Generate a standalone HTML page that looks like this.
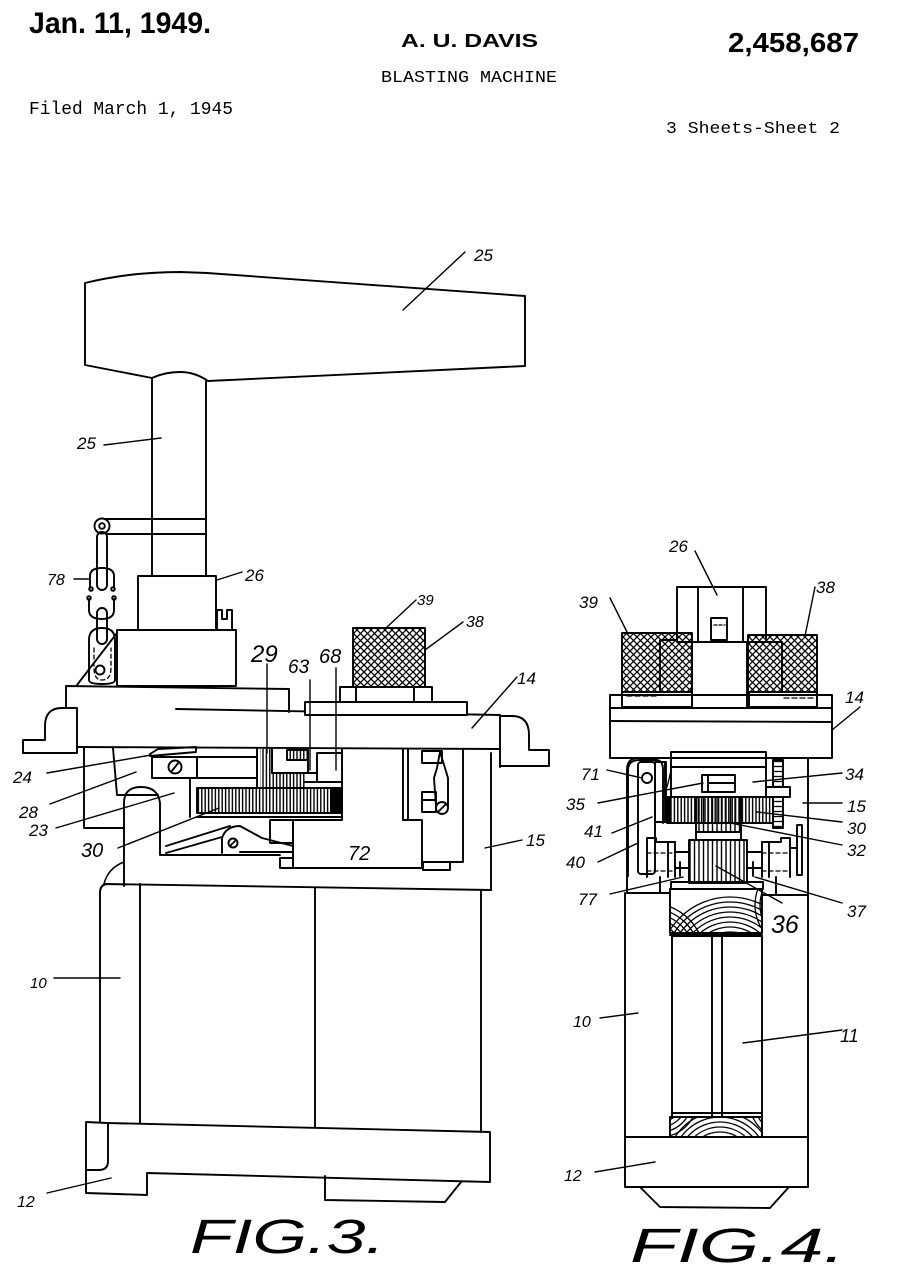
<!DOCTYPE html>
<html>
<head>
<meta charset="utf-8">
<style>
html,body{margin:0;padding:0;background:#fff;}
svg{display:block;}
.l{font-family:"Liberation Sans",sans-serif;font-style:italic;fill:#000;}
.m{font-family:"Liberation Mono",monospace;fill:#000;}
.b{font-family:"Liberation Sans",sans-serif;font-weight:bold;fill:#000;}
.fig{font-family:"Liberation Sans",sans-serif;font-style:italic;fill:#000;}
</style>
</head>
<body>
<svg width="908" height="1280" viewBox="0 0 908 1280" xmlns="http://www.w3.org/2000/svg">
<defs>
  <pattern id="xh" width="7" height="7" patternUnits="userSpaceOnUse">
    <path d="M0,0 L7,7 M7,0 L0,7" stroke="#000" stroke-width="1.3"/>
  </pattern>
  <pattern id="vh" width="3.4" height="10" patternUnits="userSpaceOnUse">
    <line x1="1.2" y1="0" x2="1.2" y2="10" stroke="#000" stroke-width="1.4"/>
  </pattern>
  <pattern id="vh2" width="4.5" height="10" patternUnits="userSpaceOnUse">
    <line x1="1.5" y1="0" x2="1.5" y2="10" stroke="#000" stroke-width="1.4"/>
  </pattern>
  <pattern id="hh" width="10" height="5" patternUnits="userSpaceOnUse">
    <line x1="0" y1="1.5" x2="10" y2="1.5" stroke="#000" stroke-width="1.3"/>
  </pattern>
  <clipPath id="armtop"><rect x="670" y="889" width="92" height="44"/></clipPath>
  <clipPath id="armbot"><rect x="670" y="1117" width="92" height="20"/></clipPath>
</defs>
<rect width="908" height="1280" fill="#fff"/>

<!-- HEADER -->
<text class="b" x="29" y="33" font-size="30" textLength="182" lengthAdjust="spacingAndGlyphs">Jan. 11, 1949.</text>
<text class="b" x="401" y="47" font-size="18" textLength="137" lengthAdjust="spacingAndGlyphs">A. U. DAVIS</text>
<text class="b" x="728" y="52" font-size="28" textLength="131" lengthAdjust="spacingAndGlyphs">2,458,687</text>
<text class="m" x="381" y="82" font-size="17" textLength="176" lengthAdjust="spacingAndGlyphs">BLASTING MACHINE</text>
<text class="m" x="29" y="114" font-size="18" textLength="204" lengthAdjust="spacingAndGlyphs">Filed March 1, 1945</text>
<text class="m" x="666" y="133" font-size="17" textLength="174" lengthAdjust="spacingAndGlyphs">3 Sheets-Sheet 2</text>

<g fill="none" stroke="#000" stroke-width="1.9" stroke-linejoin="round" stroke-linecap="round">

<!-- ================= FIG 3 ================= -->
<path d="M85,283 Q130,272 180,272 L207,273 L525,296 L525,366 L208,381 Q195,372 180,372 Q165,372 152,378 L85,365 Z"/>
<line x1="152" y1="378" x2="152" y2="577"/>
<line x1="206" y1="381" x2="206" y2="577"/>
<line x1="104" y1="519" x2="206" y2="519"/>
<line x1="107" y1="534" x2="206" y2="534"/>
<circle cx="102" cy="526" r="7.5" fill="#fff"/>
<circle cx="102" cy="526" r="2.8"/>
<rect x="97" y="532" width="10" height="58" rx="5"/>
<path d="M90,588 L90,576 Q90,568 102,568 Q114,568 114,576 L114,588"/>
<circle cx="91" cy="589" r="1.8"/><circle cx="113" cy="589" r="1.8"/>
<path d="M89,599 L89,610 Q89,619 102,619 Q114,619 114,610 L114,599"/>
<circle cx="89" cy="598" r="1.8"/><circle cx="114" cy="598" r="1.8"/>
<rect x="97" y="608" width="10" height="36" rx="5"/>
<path d="M89,680 L89,640 Q89,628 102,628 Q115,628 115,640 L115,680 Q115,684 102,684 Q89,684 89,680 Z"/>
<circle cx="100" cy="670" r="4.5"/>
<path d="M94,648 L94,668 Q94,680 102,680 Q111,680 111,668 L111,648" stroke-dasharray="4,3" stroke-width="1.3"/>
<line x1="77" y1="685" x2="117" y2="633"/>
<rect x="138" y="576" width="78" height="54" fill="#fff"/>
<path d="M217,630 L217,610 L222,610 L222,619 L227,619 L227,610 L232,610 L232,630"/>
<rect x="117" y="630" width="119" height="56" fill="#fff"/>
<path d="M66,708 L66,686 L289,689 L289,712"/>
<line x1="176" y1="709" x2="500" y2="715"/>
<line x1="77" y1="747" x2="500" y2="749"/>
<line x1="500" y1="715" x2="500" y2="767"/>
<path d="M77,708 L62,708 Q45,708 45,726 L45,740 L23,740 L23,753 L77,753 Z"/>
<path d="M500,716 L512,716 Q529,716 529,735 L529,750 L549,750 L549,766 L500,766"/>
<rect x="305" y="702" width="162" height="13" fill="#fff"/>
<rect x="340" y="687" width="92" height="15" fill="#fff"/>
<line x1="356" y1="687" x2="356" y2="702"/>
<line x1="414" y1="687" x2="414" y2="702"/>
<rect x="353" y="628" width="72" height="59" fill="url(#xh)"/>

<path d="M84,748 L84,828 L124,828"/>
<path d="M124,886 L124,803 Q124,787 141,787 Q158,787 160,803 L160,855 L280,855"/>
<line x1="491" y1="753" x2="491" y2="890"/>
<line x1="104" y1="884" x2="491" y2="890"/>
<path d="M104,884 Q108,868 124,862" stroke-width="1.5"/>
<path d="M403,749 L403,820 L422,820 L422,868"/>
<line x1="408" y1="749" x2="408" y2="820"/>
<path d="M463,750 L463,862 L423,862"/>
<rect x="423" y="862" width="27" height="8"/>
<rect x="422" y="751" width="20" height="12"/>
<rect x="422" y="792" width="14" height="8"/>
<rect x="422" y="800" width="14" height="12"/>
<path d="M440,752 L437,768 L434,778 L436,806"/>
<path d="M440,752 L445,768 L448,778 L448,806"/>
<circle cx="442" cy="808" r="6" fill="#fff"/>
<line x1="438" y1="812" x2="446" y2="804"/>
<path d="M342,749 L342,820 L293,820 L293,868 L422,868"/>
<rect x="280" y="858" width="13" height="10"/>
<rect x="270" y="820" width="23" height="23"/>
<line x1="257" y1="749" x2="257" y2="788"/>
<rect x="260" y="749" width="13" height="39" fill="url(#vh)" stroke="none"/>
<rect x="273" y="773" width="32" height="15" fill="url(#vh)" stroke="none"/>
<path d="M272,749 L272,773 L308,773 L308,760"/>
<rect x="287" y="750" width="21" height="10" fill="url(#vh)"/>
<rect x="317" y="753" width="25" height="29" fill="#fff"/>
<line x1="305" y1="782" x2="342" y2="782"/>
<line x1="305" y1="773" x2="317" y2="773"/>
<rect x="197" y="788" width="145" height="25" fill="url(#vh)"/>
<rect x="330" y="788" width="12" height="25" fill="#000" stroke="none"/>
<line x1="197" y1="817" x2="342" y2="817"/>
<line x1="190" y1="778" x2="190" y2="817"/>
<rect x="152" y="757" width="45" height="21" fill="#fff"/>
<circle cx="175" cy="767" r="6.5"/>
<line x1="171" y1="772" x2="179" y2="762"/>
<rect x="197" y="757" width="60" height="21"/>
<path d="M150,754 L158,749 L196,747 L196,752 L150,756 Z"/>
<path d="M113,748 L117,795 L158,795"/>
<line x1="158" y1="778" x2="190" y2="778"/>
<line x1="166" y1="846" x2="230" y2="826"/>
<line x1="166" y1="853" x2="222" y2="837"/>
<path d="M222,853 L222,838 Q226,826 240,826 L262,838 L293,846"/>
<line x1="240" y1="852" x2="293" y2="852"/>
<circle cx="233" cy="843" r="4.5"/>
<line x1="230" y1="846" x2="236" y2="840"/>

<path d="M100,1122 L100,893 Q100,884 108,884"/>
<line x1="140" y1="884" x2="140" y2="1123"/>
<line x1="315" y1="888" x2="315" y2="1127"/>
<line x1="481" y1="890" x2="481" y2="1132"/>
<path d="M86,1122 L107,1123 L490,1132 L490,1182 L147,1173 L147,1195 L86,1193 Z"/>
<path d="M108,1123 L108,1161 Q108,1170 99,1170 L86,1170"/>
<path d="M325,1176 L325,1200 L445,1202 L461,1182"/>

<g stroke-width="1.4">
<line x1="465" y1="252" x2="403" y2="310"/>
<line x1="104" y1="445" x2="161" y2="438"/>
<line x1="74" y1="579" x2="89" y2="579"/>
<line x1="217" y1="580" x2="242" y2="572"/>
<line x1="416" y1="600" x2="386" y2="628"/>
<line x1="463" y1="622" x2="425" y2="650"/>
<line x1="517" y1="677" x2="472" y2="728"/>
<line x1="267" y1="664" x2="267" y2="753"/>
<line x1="310" y1="680" x2="310" y2="770"/>
<line x1="336" y1="668" x2="336" y2="770"/>
<line x1="47" y1="773" x2="151" y2="755"/>
<line x1="50" y1="804" x2="136" y2="772"/>
<line x1="56" y1="828" x2="174" y2="793"/>
<line x1="118" y1="848" x2="219" y2="808"/>
<line x1="522" y1="840" x2="485" y2="848"/>
<line x1="54" y1="978" x2="120" y2="978"/>
<line x1="47" y1="1193" x2="111" y2="1178"/>
</g>

<!-- ================= FIG 4 ================= -->
<rect x="677" y="587" width="89" height="55"/>
<line x1="698" y1="587" x2="698" y2="642"/>
<line x1="743" y1="587" x2="743" y2="642"/>
<rect x="711" y="618" width="16" height="22"/>
<line x1="714" y1="625" x2="725" y2="625" stroke-dasharray="3,2" stroke-width="1.2"/>
<rect x="692" y="642" width="55" height="66" fill="#fff"/>
<rect x="622" y="633" width="70" height="59" fill="url(#xh)"/>
<path d="M660,697 L660,640 L676,640"/>
<rect x="622" y="692" width="70" height="15" fill="#fff"/>
<line x1="627" y1="696" x2="658" y2="696" stroke-dasharray="5,3" stroke-width="1.3"/>
<rect x="748" y="635" width="69" height="57" fill="url(#xh)"/>
<path d="M782,698 L782,642 L766,642"/>
<rect x="749" y="692" width="68" height="15" fill="#fff"/>
<line x1="784" y1="698" x2="813" y2="698" stroke-width="1.3" stroke-dasharray="5,3"/>
<rect x="610" y="695" width="222" height="63"/>
<line x1="610" y1="708" x2="832" y2="708"/>
<line x1="610" y1="721" x2="832" y2="722"/>
<path d="M627,893 L627,770 Q627,758 638,758"/>
<line x1="808" y1="758" x2="808" y2="895"/>
<rect x="671" y="752" width="95" height="15"/>
<rect x="671" y="767" width="95" height="30"/>
<rect x="766" y="787" width="24" height="10"/>
<rect x="702" y="775" width="33" height="17"/>
<line x1="708" y1="775" x2="708" y2="792"/>
<line x1="708" y1="783" x2="735" y2="783"/>
<path d="M671,770 Q668,785 664,797" stroke-width="1.3"/>
<rect x="773" y="760" width="10" height="27" fill="url(#hh)"/>
<rect x="773" y="797" width="10" height="31" fill="url(#hh)"/>
<path d="M628,876 L628,770 Q628,760 640,760 L656,760 Q663,760 663,770 L663,823"/>
<rect x="638" y="762" width="17" height="112" rx="3"/>
<circle cx="647" cy="778" r="5"/>
<rect x="655" y="762" width="10" height="60"/>
<line x1="666" y1="762" x2="666" y2="797"/>
<rect x="667" y="797" width="106" height="26" fill="url(#vh)"/>
<rect x="696" y="797" width="45" height="35" fill="url(#vh2)"/>
<rect x="665" y="797" width="6" height="26" fill="#000" stroke="none"/>
<rect x="696" y="832" width="45" height="8" fill="#fff"/>
<rect x="689" y="840" width="58" height="43" fill="url(#vh2)"/>
<path d="M647,877 L647,838 L656,838 L656,842 L668,842 L668,877"/>
<line x1="668" y1="842" x2="675" y2="842"/>
<line x1="675" y1="842" x2="675" y2="877"/>
<line x1="647" y1="853" x2="675" y2="853" stroke-dasharray="4,3" stroke-width="1.3"/>
<line x1="647" y1="871" x2="675" y2="871" stroke-dasharray="4,3" stroke-width="1.3"/>
<path d="M790,877 L790,838 L781,838 L781,842 L769,842 L769,877"/>
<line x1="762" y1="842" x2="769" y2="842"/>
<line x1="762" y1="842" x2="762" y2="877"/>
<line x1="762" y1="853" x2="790" y2="853" stroke-dasharray="4,3" stroke-width="1.3"/>
<line x1="762" y1="871" x2="790" y2="871" stroke-dasharray="4,3" stroke-width="1.3"/>
<line x1="675" y1="852" x2="689" y2="852"/>
<line x1="675" y1="868" x2="689" y2="868"/>
<line x1="747" y1="852" x2="762" y2="852"/>
<line x1="747" y1="868" x2="762" y2="868"/>
<line x1="680" y1="862" x2="680" y2="876"/>
<line x1="753" y1="862" x2="753" y2="876"/>
<rect x="797" y="825" width="5" height="50"/>
<line x1="790" y1="848" x2="797" y2="848"/>
<rect x="671" y="882" width="92" height="7"/>
<line x1="627" y1="893" x2="670" y2="893"/>
<line x1="763" y1="895" x2="808" y2="895"/>
<line x1="660" y1="877" x2="660" y2="893"/>
<line x1="776" y1="877" x2="776" y2="895"/>
<!-- armature top wood grain -->
<rect x="670" y="889" width="92" height="44"/>
<g clip-path="url(#armtop)" stroke-width="1.3">
  <circle cx="730" cy="968" r="16"/><circle cx="730" cy="968" r="21"/>
  <circle cx="730" cy="968" r="26"/><circle cx="730" cy="968" r="31"/>
  <circle cx="730" cy="968" r="36"/><circle cx="730" cy="968" r="41"/>
  <circle cx="730" cy="968" r="46"/><circle cx="730" cy="968" r="51"/>
  <circle cx="730" cy="968" r="56"/><circle cx="730" cy="968" r="61"/>
  <circle cx="730" cy="968" r="66"/><circle cx="730" cy="968" r="71"/>
  <circle cx="650" cy="958" r="30"/><circle cx="650" cy="958" r="35"/>
  <circle cx="650" cy="958" r="40"/><circle cx="650" cy="958" r="45"/>
  <circle cx="650" cy="958" r="50"/><circle cx="650" cy="958" r="55"/>
  <circle cx="800" cy="905" r="25"/><circle cx="800" cy="905" r="30"/>
  <circle cx="800" cy="905" r="35"/><circle cx="800" cy="905" r="40"/>
  <circle cx="800" cy="905" r="45"/>
</g>
<line x1="670" y1="935" x2="762" y2="935"/>
<rect x="672" y="936" width="90" height="181"/>
<line x1="712" y1="936" x2="712" y2="1116"/>
<line x1="722" y1="936" x2="722" y2="1116"/>
<line x1="672" y1="1113" x2="762" y2="1113"/>
<rect x="670" y="1117" width="92" height="20"/>
<g clip-path="url(#armbot)" stroke-width="1.3">
  <circle cx="720" cy="1165" r="28"/><circle cx="720" cy="1165" r="33"/>
  <circle cx="720" cy="1165" r="38"/><circle cx="720" cy="1165" r="43"/>
  <circle cx="720" cy="1165" r="48"/><circle cx="720" cy="1165" r="53"/>
  <circle cx="660" cy="1100" r="22"/><circle cx="660" cy="1100" r="27"/>
  <circle cx="660" cy="1100" r="32"/><circle cx="660" cy="1100" r="37"/>
  <circle cx="790" cy="1100" r="26"/><circle cx="790" cy="1100" r="31"/>
  <circle cx="790" cy="1100" r="36"/><circle cx="790" cy="1100" r="41"/>
</g>
<line x1="625" y1="893" x2="625" y2="1137"/>
<line x1="808" y1="895" x2="808" y2="1137"/>
<rect x="625" y="1137" width="183" height="50"/>
<path d="M640,1187 L660,1207 L770,1208 L788,1188"/>

<g stroke-width="1.4">
<line x1="695" y1="551" x2="717" y2="595"/>
<line x1="610" y1="598" x2="628" y2="634"/>
<line x1="815" y1="587" x2="805" y2="636"/>
<line x1="860" y1="707" x2="832" y2="730"/>
<line x1="607" y1="770" x2="642" y2="778"/>
<line x1="842" y1="773" x2="753" y2="782"/>
<line x1="598" y1="803" x2="703" y2="783"/>
<line x1="842" y1="803" x2="803" y2="803"/>
<line x1="612" y1="833" x2="652" y2="817"/>
<line x1="842" y1="822" x2="757" y2="812"/>
<line x1="598" y1="862" x2="638" y2="843"/>
<line x1="842" y1="845" x2="725" y2="822"/>
<line x1="610" y1="894" x2="683" y2="877"/>
<line x1="842" y1="903" x2="755" y2="877"/>
<line x1="782" y1="903" x2="716" y2="866"/>
<line x1="600" y1="1018" x2="638" y2="1013"/>
<line x1="842" y1="1030" x2="743" y2="1043"/>
<line x1="595" y1="1172" x2="655" y2="1162"/>
</g>
</g>

<!-- LABELS FIG 3 -->
<text class="l" x="474" y="261" font-size="17">25</text>
<text class="l" x="77" y="449" font-size="17">25</text>
<text class="l" x="47" y="585" font-size="16">78</text>
<text class="l" x="245" y="581" font-size="17">26</text>
<text class="l" x="417" y="605" font-size="15">39</text>
<text class="l" x="466" y="627" font-size="16">38</text>
<text class="l" x="517" y="684" font-size="17">14</text>
<text class="l" x="251" y="662" font-size="24">29</text>
<text class="l" x="288" y="673" font-size="19">63</text>
<text class="l" x="319" y="663" font-size="20">68</text>
<text class="l" x="13" y="783" font-size="17">24</text>
<text class="l" x="19" y="818" font-size="17">28</text>
<text class="l" x="29" y="836" font-size="17">23</text>
<text class="l" x="81" y="857" font-size="20">30</text>
<text class="l" x="348" y="860" font-size="20">72</text>
<text class="l" x="526" y="846" font-size="17">15</text>
<text class="l" x="30" y="988" font-size="15">10</text>
<text class="l" x="17" y="1207" font-size="16">12</text>
<text class="fig" x="190" y="1253" font-size="48" textLength="195" lengthAdjust="spacingAndGlyphs">FIG.3.</text>

<!-- LABELS FIG 4 -->
<text class="l" x="669" y="552" font-size="17">26</text>
<text class="l" x="579" y="608" font-size="17">39</text>
<text class="l" x="816" y="593" font-size="17">38</text>
<text class="l" x="845" y="703" font-size="17">14</text>
<text class="l" x="581" y="780" font-size="17">71</text>
<text class="l" x="845" y="780" font-size="17">34</text>
<text class="l" x="566" y="810" font-size="17">35</text>
<text class="l" x="847" y="812" font-size="17">15</text>
<text class="l" x="584" y="837" font-size="17">41</text>
<text class="l" x="847" y="834" font-size="17">30</text>
<text class="l" x="566" y="868" font-size="17">40</text>
<text class="l" x="847" y="856" font-size="17">32</text>
<text class="l" x="578" y="905" font-size="17">77</text>
<text class="l" x="847" y="917" font-size="17">37</text>
<text class="l" x="771" y="933" font-size="25">36</text>
<text class="l" x="573" y="1027" font-size="16">10</text>
<text class="l" x="840" y="1042" font-size="18">11</text>
<text class="l" x="564" y="1181" font-size="16">12</text>
<text class="fig" x="630" y="1262" font-size="48" textLength="215" lengthAdjust="spacingAndGlyphs">FIG.4.</text>
</svg>
</body>
</html>
